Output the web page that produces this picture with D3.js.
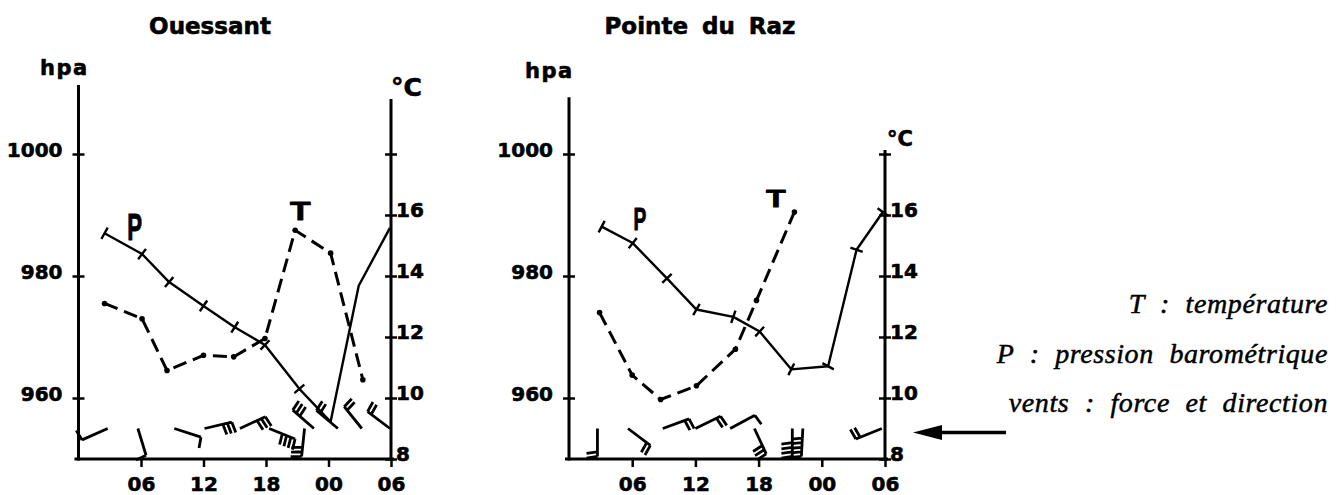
<!DOCTYPE html>
<html><head><meta charset="utf-8">
<script src="https://cdn.jsdelivr.net/npm/d3@7"></script>
<style>
body{margin:0;background:#fff}
svg{display:block;background:#fff}
</style></head><body>
<svg id="c" width="1344" height="495"></svg>
<script>
// ---------- data ----------
const hourTicks = [6, 12, 18, 24, 30];
const hourTickLabels = ["06", "12", "18", "00", "06"];
const pressureTicks = [960, 980, 1000];
const tempTicks = [8, 10, 12, 14, 16, 18];
const tempTickLabels = ["8", "10", "12", "14", "16", ""];

// Ouessant
const ouessantPHours = [2.5, 6.1, 8.7, 12, 15, 17.9, 21.2, 24.2, 26.9, 29.9];
const ouessantP      = [987.0, 983.6, 979.0, 975.1, 971.6, 968.7, 961.5, 956.1, 978.4, 987.9];
const ouessantPMarked = [1, 1, 1, 1, 1, 1, 1, 0, 0, 0];
const ouessantTHours = [2.5, 6.1, 8.5, 12, 14.9, 17.9, 20.8, 24.2, 27.3];
const ouessantT      = [13.1, 12.6, 10.9, 11.4, 11.35, 11.95, 15.5, 14.75, 10.6];
const ouessantWindHours = [2.8, 5.7, 9.2, 12.1, 15.5, 18.3, 21.7, 22.6, 24.9, 27.2, 29.9];
const ouessantWindDir   = [246, 163, 108, 77, 65, 112, 186, 311, 310, 321, 307];
const ouessantWindForce = [1, 1, 1, 3, 3, 4, 3, 3, 2, 2, 2];

// Pointe du Raz
const razPHours = [3.1, 6.05, 9.3, 12.1, 15.6, 18.1, 21.1, 24.6, 27.3, 29.8];
const razP      = [988.1, 985.4, 979.6, 974.5, 973.3, 970.9, 964.7, 965.2, 984.3, 990.5];
const razPMarked = [1, 1, 1, 1, 1, 1, 1, 1, 1, 1];
const razTHours = [2.9, 6, 8.7, 12.1, 15.8, 17.8, 21.4];
const razT      = [12.8, 10.75, 9.95, 10.4, 11.6, 13.2, 16.1];
const razWindHours = [2.7, 5.6, 8.9, 12.0, 15.3, 17.6, 21.2, 22.2, 29.7];
const razWindDir   = [180, 127, 70, 64, 62, 155, 180, 183, 248];
const razWindForce = [2, 2, 2, 2, 1, 3, 4, 5, 2];

const legendLines = ["T : température", "P : pression barométrique", "vents : force et direction"];

// ---------- drawing ----------
const svg = d3.select("#c");
const SANS = "'DejaVu Sans', Verdana, sans-serif";
const SERIF = "'Liberation Serif', 'Times New Roman', serif";

const charts = [
  {title: "Ouessant", titleX: 210, xRange: [78.5, 391], pTop: 1011.3, tTop: 19.8,
   hpaX: 40, hpaY: 75, degX: 391, degY: 96, degSize: 25,
   pH: ouessantPHours, p: ouessantP, pMark: ouessantPMarked,
   tH: ouessantTHours, t: ouessantT,
   wH: ouessantWindHours, wD: ouessantWindDir, wF: ouessantWindForce,
   pLab: [5.4, 985.9, 37], tLab: [21.3, 15.84, 25]},
  {title: "Pointe du Raz", titleX: 700, xRange: [569, 885], pTop: 1009.3, tTop: 18.13,
   hpaX: 525, hpaY: 78, degX: 887, degY: 146, degSize: 21,
   pH: razPHours, p: razP, pMark: razPMarked,
   tH: razTHours, t: razT,
   wH: razWindHours, wD: razWindDir, wF: razWindForce,
   pLab: [6.74, 987.5, 32], tLab: [19.65, 16.26, 24]}
];

function heavy(sel, w) {
  return sel.attr("stroke", "#000").attr("stroke-width", w).attr("paint-order", "stroke")
    .attr("stroke-linejoin", "round");
}

function drawBarb(g, sx, sy, dirDeg, force) {
  const L = 28, fl = 11, sp = 4.6;
  const th = dirDeg * Math.PI / 180;
  const ux = Math.sin(th), uy = -Math.cos(th);
  const ex = sx + ux * L, ey = sy + uy * L;
  const a = Math.atan2(uy, ux) + 82 * Math.PI / 180;
  const fx = Math.cos(a), fy = Math.sin(a);
  let d = `M${sx},${sy}L${ex},${ey}`;
  for (let i = 0; i < force; i++) {
    const bx = ex - ux * sp * i, by = ey - uy * sp * i;
    d += `M${bx},${by}l${fx * fl},${fy * fl}`;
  }
  g.append("path").attr("d", d).attr("fill", "none").attr("stroke", "#000")
    .attr("stroke-width", 2.8).attr("stroke-linecap", "butt");
}

charts.forEach(cfg => {
  const x = d3.scaleLinear().domain([0, 30]).range(cfg.xRange);
  const yP = d3.scaleLinear().domain([950, 1000]).range([459, 154]);
  const yT = d3.scaleLinear().domain([8, 18]).range([459, 154]);
  const g = svg.append("g");
  const x0 = x(0), x1 = x(30), yb = yP(950);

  // title
  heavy(g.append("text").attr("x", cfg.titleX).attr("y", 34).attr("text-anchor", "middle")
    .attr("font-family", SANS).attr("font-weight", "bold").attr("font-size", 23)
    .attr("word-spacing", 6).text(cfg.title), 0.6);
  // unit labels
  heavy(g.append("text").attr("x", cfg.hpaX).attr("y", cfg.hpaY)
    .attr("font-family", SANS).attr("font-weight", "bold").attr("font-size", 21)
    .attr("letter-spacing", 1.5).text("hpa"), 0.6);
  heavy(g.append("text").attr("x", cfg.degX).attr("y", cfg.degY)
    .attr("font-family", SANS).attr("font-weight", "bold").attr("font-size", cfg.degSize)
    .text("°C"), 0.6);

  // axis lines
  g.append("line").attr("x1", x0).attr("x2", x0).attr("y1", yP(cfg.pTop)).attr("y2", yb + 1.5)
    .attr("stroke", "#000").attr("stroke-width", 3);
  g.append("line").attr("x1", x1).attr("x2", x1).attr("y1", yT(cfg.tTop)).attr("y2", yb + 1.5)
    .attr("stroke", "#000").attr("stroke-width", 3);
  g.append("line").attr("x1", x0 - 4).attr("x2", x1 + 3).attr("y1", yb).attr("y2", yb)
    .attr("stroke", "#000").attr("stroke-width", 3);

  // left axis (pressure)
  const aL = g.append("g").attr("transform", `translate(${x0},0)`)
    .call(d3.axisLeft(yP).tickValues(pressureTicks).tickSize(6).tickPadding(10).tickFormat(d3.format("d")));
  aL.select(".domain").remove();
  aL.selectAll(".tick line").attr("x1", 6).attr("stroke-width", 2.5);
  aL.selectAll(".tick text").attr("dy", null).attr("y", 2).attr("x", -16);

  // right axis (temperature)
  const aR = g.append("g").attr("transform", `translate(${x1},0)`)
    .call(d3.axisRight(yT).tickValues(tempTicks).tickSize(6).tickPadding(0)
      .tickFormat((d, i) => tempTickLabels[i]));
  aR.select(".domain").remove();
  aR.selectAll(".tick line").attr("x1", -6).attr("stroke-width", 2.5);
  aR.selectAll(".tick text").attr("dy", null).attr("y", 1).attr("x", 5);

  // bottom axis (hours)
  const aB = g.append("g").attr("transform", `translate(0,${yb})`)
    .call(d3.axisBottom(x).tickValues(hourTicks).tickSize(8).tickPadding(10)
      .tickFormat((d, i) => hourTickLabels[i]));
  aB.select(".domain").remove();
  aB.selectAll(".tick line").attr("stroke-width", 2.5);

  [aL, aR, aB].forEach(a => a.attr("font-family", SANS).attr("font-weight", "bold").attr("font-size", 20));
  heavy(g.selectAll(".tick text").attr("fill", "#000"), 0.6);
  g.selectAll(".tick line").attr("stroke", "#000");

  // pressure line
  const pData = cfg.pH.map((h, i) => ({h, v: cfg.p[i], m: cfg.pMark[i]}));
  const lineP = d3.line().x(d => x(d.h)).y(d => yP(d.v));
  g.append("path").datum(pData).attr("d", lineP).attr("fill", "none")
    .attr("stroke", "#000").attr("stroke-width", 2.4).attr("stroke-linejoin", "round");
  // cross marks perpendicular to the line
  pData.forEach((d, i) => {
    if (!d.m) return;
    const a = pData[Math.max(0, i - 1)], b = pData[Math.min(pData.length - 1, i + 1)];
    let dx = x(b.h) - x(a.h), dy = yP(b.v) - yP(a.v);
    const len = Math.hypot(dx, dy) || 1;
    const nx = -dy / len, ny = dx / len, r = 6.5;
    const cx = x(d.h), cy = yP(d.v);
    g.append("line").attr("x1", cx - nx * r).attr("y1", cy - ny * r)
      .attr("x2", cx + nx * r).attr("y2", cy + ny * r)
      .attr("stroke", "#000").attr("stroke-width", 2.4);
  });

  // temperature line
  const tData = cfg.tH.map((h, i) => ({h, v: cfg.t[i]}));
  const lineT = d3.line().x(d => x(d.h)).y(d => yT(d.v));
  g.append("path").datum(tData).attr("d", lineT).attr("fill", "none")
    .attr("stroke", "#000").attr("stroke-width", 3).attr("stroke-dasharray", "14,7");
  g.selectAll(null).data(tData).enter().append("circle")
    .attr("cx", d => x(d.h)).attr("cy", d => yT(d.v)).attr("r", 2.8).attr("fill", "#000");

  // wind barbs at the 9 °C level
  cfg.wH.forEach((h, i) => drawBarb(g, x(h), yT(9), cfg.wD[i], cfg.wF[i]));

  // P and T annotations
  heavy(g.append("text").attr("transform", `translate(${x(cfg.pLab[0])},${yP(cfg.pLab[1])}) scale(0.6,1)`)
    .attr("text-anchor", "middle").attr("font-family", "'Liberation Sans', Arial, sans-serif")
    .attr("font-weight", "bold").attr("font-size", cfg.pLab[2]).text("P"), 1);
  heavy(g.append("text").attr("transform", `translate(${x(cfg.tLab[0])},${yT(cfg.tLab[1])}) scale(1.35,1)`)
    .attr("text-anchor", "middle").attr("font-family", "'Liberation Sans', Arial, sans-serif")
    .attr("font-weight", "bold").attr("font-size", cfg.tLab[2]).text("T"), 0.8);
});

// legend
const legY = [313, 363, 412];
legendLines.forEach((s, i) => {
  heavy(svg.append("text").attr("x", 1328).attr("y", legY[i]).attr("text-anchor", "end")
    .attr("font-family", SERIF).attr("font-style", "italic").attr("font-size", 28)
    .attr("letter-spacing", 0.6).attr("word-spacing", 8).text(s), 0.5);
});
// arrow pointing at the wind row
svg.append("line").attr("x1", 938).attr("x2", 1006).attr("y1", 432.5).attr("y2", 432.5)
  .attr("stroke", "#000").attr("stroke-width", 3.5);
svg.append("path").attr("d", "M913,432.5L942,425L942,440Z").attr("fill", "#000");
</script>
</body></html>
